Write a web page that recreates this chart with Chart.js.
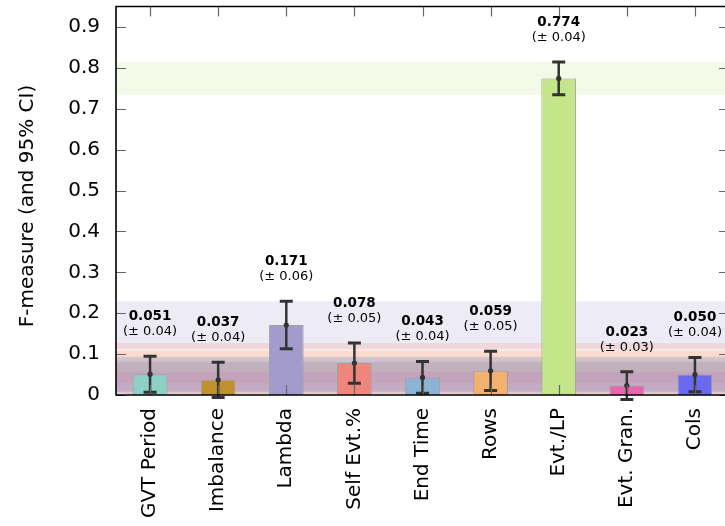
<!DOCTYPE html>
<html>
<head>
<meta charset="utf-8">
<script src="https://cdn.jsdelivr.net/npm/chart.js@4/dist/chart.umd.min.js"></script>
<style>
  html, body { margin: 0; padding: 0; background: #fff; overflow: hidden; }
  #wrap { width: 735px; height: 526px; position: relative; }
</style>
</head>
<body>
<div id="wrap"><canvas id="c" width="735" height="526"></canvas></div>
<script>
// Feature importance: mean F-measure with 95% confidence half-widths
const categories = ['GVT Period', 'Imbalance', 'Lambda', 'Self Evt.%', 'End Time', 'Rows', 'Evt./LP', 'Evt. Gran.', 'Cols'];
const fMeasure   = [0.051, 0.037, 0.171, 0.078, 0.043, 0.059, 0.774, 0.023, 0.050];
const ci95       = [0.044, 0.043, 0.058, 0.049, 0.039, 0.048, 0.040, 0.034, 0.042];
const barColors  = ['#8fd0c6', '#c0902c', '#a39bcb', '#f0857c', '#8db3d4', '#f2b16f', '#c5e58a', '#e667b0', '#6a6af0'];
const yTickValues = [0, 0.1, 0.2, 0.3, 0.4, 0.5, 0.6, 0.7, 0.8, 0.9];
const yTickLabels = ['0', '0.1', '0.2', '0.3', '0.4', '0.5', '0.6', '0.7', '0.8', '0.9'];
const yAxisTitle = 'F-measure (and 95% CI)';

Chart.defaults.font.family = "'DejaVu Sans', sans-serif";
Chart.defaults.color = '#000';

const FONT = "'DejaVu Sans', sans-serif";

const decor = {
  id: 'decor',
  // translucent confidence bands across the whole plot
  beforeDatasetsDraw(chart) {
    const { ctx, chartArea: a, scales: { y } } = chart;
    ctx.save();
    ctx.beginPath();
    ctx.rect(a.left, a.top, a.right - a.left, a.bottom - a.top);
    ctx.clip();
    ctx.globalAlpha = 0.2;
    fMeasure.forEach((m, i) => {
      const top = y.getPixelForValue(m + ci95[i]);
      const bot = y.getPixelForValue(Math.max(0, m - ci95[i]));
      ctx.fillStyle = barColors[i];
      ctx.fillRect(a.left, top, a.right - a.left, bot - top);
    });
    ctx.restore();
  },
  // error bars and value labels
  afterDatasetsDraw(chart) {
    const { ctx, scales: { y } } = chart;
    const meta = chart.getDatasetMeta(0);
    ctx.save();
    meta.data.forEach((bar, i) => {
      const x = bar.x;
      const m = fMeasure[i], c = ci95[i];
      const yt = y.getPixelForValue(m + c);
      const yb = y.getPixelForValue(m - c);
      const ym = y.getPixelForValue(m);
      ctx.strokeStyle = '#333';
      ctx.lineWidth = 2.5;
      ctx.beginPath();
      ctx.moveTo(x, yt); ctx.lineTo(x, yb);
      ctx.stroke();
      ctx.lineWidth = 3;
      ctx.beginPath();
      ctx.moveTo(x - 6.5, yt); ctx.lineTo(x + 6.5, yt);
      ctx.moveTo(x - 6.5, yb); ctx.lineTo(x + 6.5, yb);
      ctx.stroke();
      ctx.fillStyle = '#333';
      ctx.beginPath();
      ctx.arc(x, ym, 2.6, 0, Math.PI * 2);
      ctx.fill();

      ctx.fillStyle = '#000';
      ctx.textAlign = 'center';
      ctx.textBaseline = 'alphabetic';
      ctx.font = 'bold 13.5px ' + FONT;
      ctx.fillText(m.toFixed(3), x, yt - 36);
      ctx.font = '13px ' + FONT;
      ctx.fillText('(\u00b1 ' + c.toFixed(2) + ')', x, yt - 21);
    });
    ctx.restore();
  },
  // frame, inward tick marks and the vertical axis title
  afterDraw(chart) {
    const { ctx, chartArea: a, scales: { y } } = chart;
    const meta = chart.getDatasetMeta(0);
    ctx.save();
    ctx.strokeStyle = '#666';
    ctx.lineWidth = 1.2;
    ctx.beginPath();
    yTickValues.forEach(v => {
      const py = Math.round(y.getPixelForValue(v)) + 0.5;
      ctx.moveTo(a.left, py); ctx.lineTo(a.left + 10, py);
      ctx.moveTo(a.right - 10, py); ctx.lineTo(a.right, py);
    });
    meta.data.forEach(bar => {
      const px = Math.round(bar.x) + 0.5;
      ctx.moveTo(px, a.top); ctx.lineTo(px, a.top + 10);
      ctx.moveTo(px, a.bottom - 10); ctx.lineTo(px, a.bottom);
    });
    ctx.stroke();

    ctx.strokeStyle = '#000';
    ctx.lineWidth = 1.6;
    ctx.beginPath();
    ctx.moveTo(a.left, a.bottom); ctx.lineTo(a.left, a.top);
    ctx.lineTo(a.right, a.top); ctx.lineTo(a.right, a.bottom);
    ctx.closePath();
    ctx.stroke();

    ctx.translate(28, 206);
    ctx.rotate(-Math.PI / 2);
    ctx.fillStyle = '#000';
    ctx.font = '20px ' + FONT;
    ctx.textAlign = 'center';
    ctx.textBaseline = 'middle';
    ctx.fillText(yAxisTitle, 0, 0);
    ctx.restore();
  }
};

new Chart(document.getElementById('c'), {
  type: 'bar',
  data: {
    labels: categories,
    datasets: [{
      data: fMeasure,
      backgroundColor: barColors,
      borderColor: '#a0a0a0',
      borderWidth: 1,
      barPercentage: 0.51,
      categoryPercentage: 1
    }]
  },
  options: {
    responsive: false,
    animation: false,
    layout: { padding: { top: 6.5, right: 6, left: 0, bottom: 0 } },
    plugins: { legend: { display: false }, tooltip: { enabled: false } },
    scales: {
      x: {
        grid: { display: false, drawTicks: false },
        border: { display: false },
        ticks: { maxRotation: 90, minRotation: 90, padding: 13, autoSkip: false, color: '#000', font: { size: 20 } },
        afterFit: s => { s.height = 131; s.paddingLeft = 0; s.paddingRight = 0; }
      },
      y: {
        min: 0,
        max: 0.95,
        grid: { display: false, drawTicks: false },
        border: { display: false },
        afterBuildTicks: s => { s.ticks = yTickValues.map(v => ({ value: v })); },
        ticks: { padding: 16, color: '#000', font: { size: 20 }, callback: (v, i) => yTickLabels[i] },
        title: { display: false },
        afterFit: s => { s.width = 116; s.paddingTop = 0; s.paddingBottom = 0; }
      }
    }
  },
  plugins: [decor]
});
</script>
</body>
</html>
